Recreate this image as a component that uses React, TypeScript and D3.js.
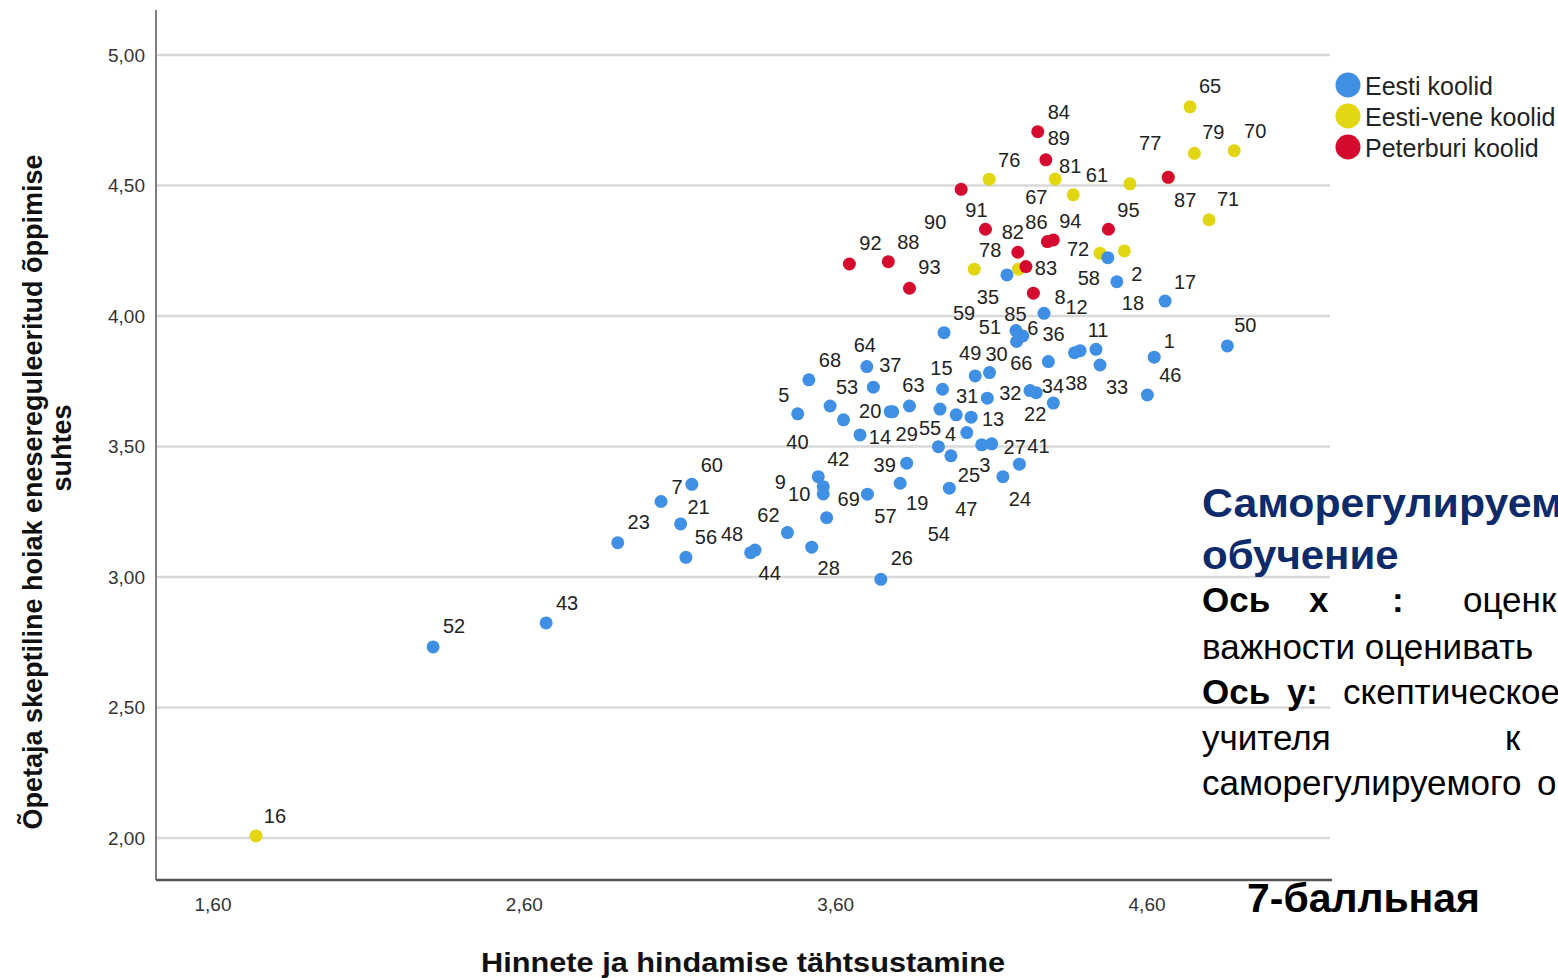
import * as d3 from 'd3';

// [school id, x = Hinnete ja hindamise tähtsustamine, y = skeptiline hoiak]
const eestiKoolid: [number, number, number][] = [
  [1, 4.623, 3.842], [2, 4.503, 4.131], [3, 4.069, 3.506], [4, 3.93, 3.499],
  [5, 3.478, 3.625], [6, 4.201, 3.923], [7, 3.039, 3.289], [8, 4.269, 4.01],
  [9, 3.56, 3.346], [10, 3.56, 3.318], [11, 4.385, 3.867], [12, 4.181, 3.902],
  [13, 4.035, 3.612], [14, 3.678, 3.544], [15, 3.943, 3.719], [17, 4.658, 4.057],
  [18, 4.436, 3.872], [19, 3.807, 3.359], [20, 3.775, 3.633], [21, 3.102, 3.203],
  [22, 4.244, 3.706], [23, 2.9, 3.131], [24, 4.137, 3.384], [25, 3.97, 3.464],
  [26, 3.745, 2.991], [27, 4.101, 3.51], [28, 3.523, 3.114], [29, 3.783, 3.633],
  [30, 4.094, 3.783], [31, 3.987, 3.621], [32, 4.087, 3.685], [33, 4.449, 3.812],
  [34, 4.224, 3.714], [35, 4.15, 4.157], [36, 4.367, 3.859], [37, 3.721, 3.727],
  [38, 4.299, 3.666], [39, 3.828, 3.436], [40, 3.625, 3.602], [41, 4.19, 3.432],
  [42, 3.544, 3.384], [43, 2.67, 2.824], [44, 3.327, 3.093], [46, 4.601, 3.697],
  [47, 3.965, 3.34], [48, 3.341, 3.103], [49, 4.048, 3.77], [50, 4.858, 3.885],
  [51, 4.179, 3.944], [52, 2.307, 2.732], [53, 3.582, 3.655], [54, 4.021, 3.553],
  [55, 3.935, 3.643], [56, 3.119, 3.075], [57, 3.702, 3.317], [58, 4.474, 4.223],
  [59, 3.948, 3.936], [60, 3.138, 3.355], [62, 3.445, 3.17], [63, 3.837, 3.655],
  [64, 3.7, 3.806], [66, 4.283, 3.825], [68, 3.514, 3.755], [69, 3.571, 3.227],
];

const eestiVeneKoolid: [number, number, number][] = [
  [16, 1.738, 2.008], [61, 4.545, 4.506], [65, 4.738, 4.801], [67, 4.363, 4.464],
  [70, 4.88, 4.633], [71, 4.799, 4.368], [72, 4.449, 4.24], [73, 4.527, 4.249],
  [74, 4.187, 4.179], [76, 4.093, 4.524], [77, 4.668, 4.531], [78, 4.045, 4.179],
  [79, 4.752, 4.623], [81, 4.305, 4.525],
];

const peterburiKoolid: [number, number, number][] = [
  [82, 4.185, 4.244], [83, 4.211, 4.189], [84, 4.249, 4.706], [85, 4.235, 4.087],
  [86, 4.28, 4.285], [87, 4.668, 4.531], [88, 3.769, 4.208], [89, 4.275, 4.598],
  [90, 4.003, 4.485], [91, 4.081, 4.332], [92, 3.644, 4.199], [93, 3.837, 4.106],
  [94, 4.299, 4.291], [95, 4.476, 4.332],
];

const xTicks = [1.6, 2.6, 3.6, 4.6];
const yTicks = [2.0, 2.5, 3.0, 3.5, 4.0, 4.5, 5.0];

const legendLabels = ['Eesti koolid', 'Eesti-vene koolid', 'Peterburi koolid'];
const COLORS = ['#3f8fe4', '#e2d511', '#d40a2e'];

// where SPSS put each case label, relative to its marker (px)
const labelOffsets: Record<number, [number, number]> = {
  1: [15, -16], 2: [20, -8], 3: [3, 20], 4: [12, -13], 5: [-14, -19], 6: [10, -8],
  7: [16, -15], 8: [16, -16], 9: [-43, -5], 10: [-24, 0], 11: [18, -21], 12: [60, -35],
  13: [22, 2], 14: [20, 2], 15: [-1, -21], 16: [19, -20], 17: [20, -19], 18: [37, -46],
  19: [17, 20], 20: [-20, -1], 21: [18, -17], 22: [-1, 21], 23: [21, -21], 24: [17, 22],
  25: [18, 19], 26: [21, -21], 27: [23, 3], 28: [17, 21], 29: [14, 22], 30: [7, -19],
  31: [11, -19], 32: [23, -5], 33: [17, 22], 34: [23, -5], 35: [-19, 22], 36: [-21, -19],
  37: [17, -22], 38: [23, -20], 39: [-22, 2], 40: [-46, 22], 41: [19, -18], 42: [20, -18],
  43: [21, -20], 44: [19, 20], 46: [23, -20], 47: [17, 21], 48: [-23, -16], 49: [-5, -23],
  50: [18, -21], 51: [-26, -4], 52: [21, -21], 53: [17, -19], 54: [-28, 101], 55: [-10, 19],
  56: [20, -20], 57: [18, 22], 58: [-19, 20], 59: [20, -20], 60: [20, -19], 61: [-33, -9],
  62: [-19, -18], 63: [4, -21], 64: [-2, -22], 65: [20, -21], 66: [-27, 1], 67: [-37, 2],
  68: [21, -20], 69: [22, -19], 70: [21, -20], 71: [19, -21], 72: [-22, -4], 76: [20, -19],
  77: [-18, -34], 78: [16, -19], 79: [19, -21], 81: [15, -13], 82: [-5, -20], 83: [20, 1],
  84: [21, -20], 85: [-18, 21], 86: [-11, -20], 87: [17, 23], 88: [20, -20], 89: [13, -22],
  90: [-26, 33], 91: [-9, -19], 92: [21, -21], 93: [20, -21], 94: [17, -19], 95: [20, -19],
};

const W = 1558;
const H = 978;
const plot = { left: 156, right: 1332, top: 10, bottom: 880 };
const FONT = '"Liberation Sans", Arial, sans-serif';

const x = d3.scaleLinear().domain([1.417, 5.194]).range([plot.left, plot.right]);
const y = d3.scaleLinear().domain([1.839, 5.172]).range([plot.bottom, plot.top]);
const fmt = (v: number) => d3.format('.2f')(v).replace('.', ',');

export default function App() {
  // drawing order: yellow under blue under red, as in the original
  const layers: { pts: [number, number, number][]; color: string }[] = [
    { pts: eestiVeneKoolid, color: COLORS[1] },
    { pts: eestiKoolid, color: COLORS[0] },
    { pts: peterburiKoolid, color: COLORS[2] },
  ];
  const all = [...eestiKoolid, ...eestiVeneKoolid, ...peterburiKoolid];

  return (
    <div style={{ position: 'absolute', left: 0, top: 0 }}>
      <svg width={W} height={H} style={{ display: 'block', background: '#fff' }} fontFamily={FONT}>
        {/* gridlines */}
        {yTicks.map((t) => (
          <line key={t} x1={plot.left + 1} x2={plot.right - 2} y1={y(t)} y2={y(t)}
            stroke="#d9d9d9" strokeWidth={2.5} />
        ))}
        {/* axes */}
        <line x1={plot.left} x2={plot.left} y1={plot.top} y2={plot.bottom} stroke="#555" strokeWidth={1.5} />
        <line x1={plot.left} x2={plot.right} y1={plot.bottom} y2={plot.bottom} stroke="#555" strokeWidth={2.5} />

        {yTicks.map((t) => (
          <text key={t} x={plot.left - 11} y={y(t) + 7} textAnchor="end" fontSize={19} fill="#333">
            {fmt(t)}
          </text>
        ))}
        {xTicks.map((t) => (
          <text key={t} x={x(t)} y={911} textAnchor="middle" fontSize={19} fill="#333">
            {fmt(t)}
          </text>
        ))}

        {/* axis titles */}
        <text x={743} y={972} textAnchor="middle" fontSize={28} fontWeight="bold" fill="#111"
          textLength={524} lengthAdjust="spacingAndGlyphs">
          Hinnete ja hindamise tähtsustamine
        </text>
        <text transform="translate(42,492) rotate(-90)" textAnchor="middle" fontSize={27}
          fontWeight="bold" fill="#111" textLength={675} lengthAdjust="spacingAndGlyphs">
          Õpetaja skeptiline hoiak enesereguleeritud õppimise
        </text>
        <text transform="translate(71,448) rotate(-90)" textAnchor="middle" fontSize={27}
          fontWeight="bold" fill="#111" textLength={87} lengthAdjust="spacingAndGlyphs">
          suhtes
        </text>

        {/* points */}
        {layers.map((layer, li) => (
          <g key={li}>
            {layer.pts.map(([id, vx, vy]) => (
              <circle key={id} cx={x(vx)} cy={y(vy)} r={6.5} fill={layer.color} />
            ))}
          </g>
        ))}
        {/* case labels */}
        {all.map(([id, vx, vy]) => {
          const off = labelOffsets[id];
          if (!off) return null;
          return (
            <text key={id} x={x(vx) + off[0]} y={y(vy) + off[1] + 7} textAnchor="middle"
              fontSize={20} fill="#222">
              {id}
            </text>
          );
        })}

        {/* legend */}
        {legendLabels.map((l, i) => (
          <g key={l} transform={`translate(1348,${85 + i * 31})`}>
            <circle r={12.5} fill={COLORS[i]} />
            <text x={17} y={10} fontSize={25} fill="#222">{l}</text>
          </g>
        ))}

        {/* slide text overlaid on the chart */}
        <g fill="#0d2a6a" fontWeight="bold" fontSize={40}>
          <text transform="translate(1202,517) scale(1.07,1)">Саморегулируемое</text>
          <text transform="translate(1202,569) scale(1.05,1)">обучение</text>
        </g>
        <g fill="#000" fontSize={35}>
          <text x={1202} y={612} fontWeight="bold">Ось</text>
          <text x={1309} y={612} fontWeight="bold">х</text>
          <text x={1392} y={612} fontWeight="bold">:</text>
          <text x={1463} y={612}>оценка</text>
          <text x={1202} y={659}>важности оценивать</text>
          <text x={1202} y={704} fontWeight="bold">Ось</text>
          <text x={1287} y={704} fontWeight="bold">у:</text>
          <text x={1343} y={704}>скептическое</text>
          <text x={1202} y={750}>учителя</text>
          <text x={1505} y={750}>к</text>
          <text x={1202} y={795}>саморегулируемого</text>
          <text x={1537} y={795}>обучения</text>
        </g>
        <text x={1247} y={912} fontSize={40} fontWeight="bold" fill="#000"
          textLength={233} lengthAdjust="spacingAndGlyphs">
          7-балльная
        </text>
      </svg>
    </div>
  );
}
